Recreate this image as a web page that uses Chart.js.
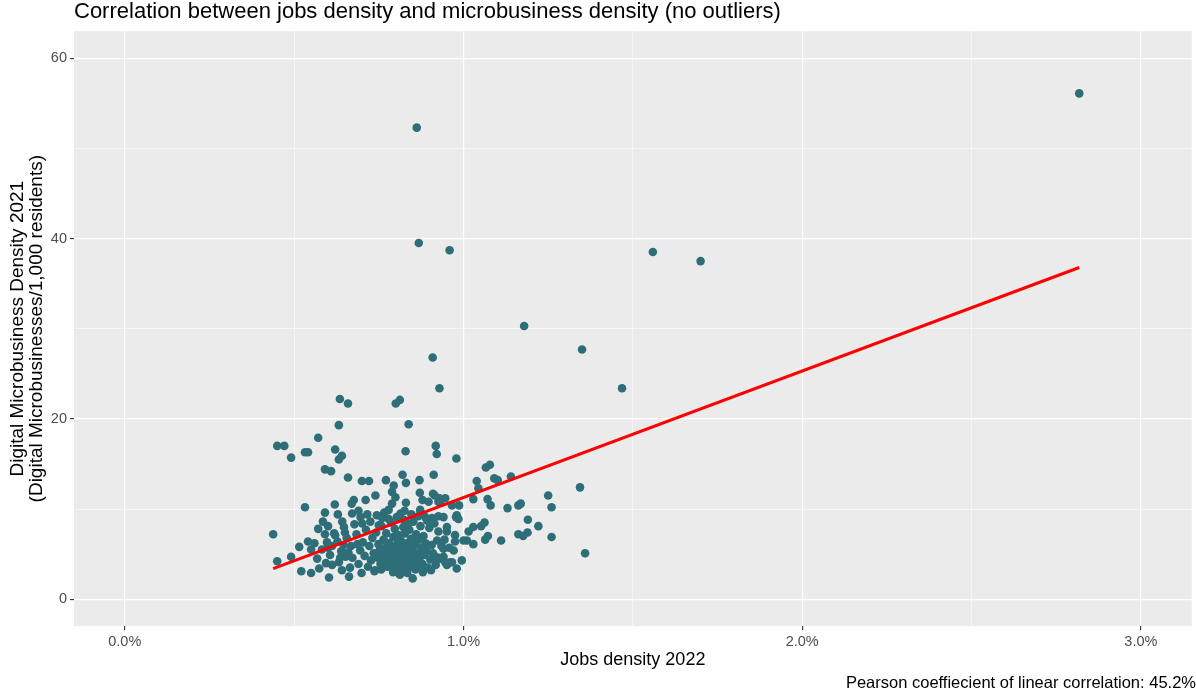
<!DOCTYPE html>
<html>
<head>
<meta charset="utf-8">
<title>Jobs density vs microbusiness density</title>
<script src="https://cdn.jsdelivr.net/npm/chart.js@4.4.0/dist/chart.umd.min.js"></script>
<style>
  html, body { margin: 0; padding: 0; background: #ffffff; }
  #wrap { width: 1196px; height: 696px; }
</style>
</head>
<body>
<div id="wrap"><canvas id="scatter" width="1196" height="696"></canvas></div>
<script>
// Jobs density 2022 (%) per county
const jobsDensity = [
  2.818, 0.862, 0.868, 0.959, 1.559, 1.700, 1.179, 1.350, 0.909, 0.929,
  1.468, 1.344, 1.359, 0.635, 0.659, 0.800, 0.812, 0.632, 0.838, 0.571,
  0.450, 0.471, 0.491, 0.532, 0.541, 0.621, 0.632, 0.641, 0.829, 0.918,
  0.921, 0.979, 0.591, 0.609, 0.659, 0.700, 0.721, 0.771, 0.794, 1.066,
  1.078, 1.039, 1.091, 1.101, 1.140, 0.820, 0.830, 0.870, 0.912, 0.740,
  1.250, 1.260, 1.162, 1.169, 1.130, 1.190, 1.221, 1.162, 1.176, 1.189,
  1.260, 1.111, 1.072, 1.064, 1.062, 1.052, 1.029, 1.015, 1.029, 1.010,
  1.029, 1.071, 1.080, 1.044, 0.980, 0.985, 0.971, 0.980, 0.961, 0.951,
  0.941, 0.926, 0.850, 0.871, 0.910, 0.929, 0.926, 0.966, 0.926, 1.000,
  0.941, 0.975, 0.917, 0.931, 0.946, 0.966, 0.995, 0.812, 0.662, 0.676,
  0.670, 0.620, 0.711, 0.789, 0.799, 0.789, 0.779, 0.830, 0.879, 0.897,
  0.915, 0.931, 0.946, 0.987, 0.978, 0.671, 0.696, 0.701, 0.642, 0.647,
  0.618, 0.760, 0.750, 0.814, 0.824, 0.838, 0.872, 0.887, 0.907, 0.941,
  0.951, 0.926, 0.951, 0.975, 0.438, 0.450, 0.491, 0.521, 0.550, 0.541,
  0.550, 0.571, 0.600, 0.591, 0.621, 0.532, 0.591, 0.629, 0.597, 0.600,
  0.574, 0.594, 0.603, 0.612, 0.632, 0.690, 0.641, 0.650,
  0.655, 0.668, 0.672, 0.684, 0.690, 0.695, 0.703, 0.708, 0.712, 0.718,
  0.722, 0.727, 0.731, 0.735, 0.739, 0.742, 0.746, 0.749, 0.752, 0.755,
  0.758, 0.761, 0.764, 0.767, 0.770, 0.772, 0.775, 0.778, 0.781, 0.783,
  0.786, 0.788, 0.790, 0.793, 0.795, 0.797, 0.800, 0.802, 0.804, 0.806,
  0.808, 0.811, 0.813, 0.815, 0.818, 0.820, 0.822, 0.824, 0.827, 0.829,
  0.831, 0.833, 0.836, 0.838, 0.840, 0.843, 0.845, 0.847, 0.850, 0.852,
  0.855, 0.857, 0.860, 0.862, 0.865, 0.868, 0.870, 0.873, 0.876, 0.879,
  0.882, 0.885, 0.888, 0.891, 0.895, 0.899, 0.902, 0.906, 0.910, 0.914,
  0.918, 0.922, 0.935, 0.944, 0.958, 0.665, 0.678, 0.687, 0.699, 0.716,
  0.725, 0.737, 0.744, 0.757, 0.766, 0.779, 0.792, 0.803, 0.817, 0.826,
  0.834, 0.846, 0.858, 0.866, 0.880, 0.893, 0.904, 0.639, 0.646, 0.652,
  0.660, 0.628, 0.636, 0.612, 0.606, 0.582, 0.568, 0.560, 0.585, 0.515
];

// Digital microbusiness density 2021 (per 1,000 residents), same order
const microDensity = [
  56.1, 52.3, 39.5, 38.7, 38.5, 37.5, 30.3, 27.7, 26.8, 23.4,
  23.4, 12.4, 5.1, 22.2, 21.7, 21.7, 22.1, 19.3, 19.4, 17.9,
  17.0, 17.0, 15.7, 16.3, 16.3, 16.6, 15.5, 15.9, 16.4, 17.0,
  16.1, 15.6, 14.4, 14.2, 13.5, 13.1, 13.1, 13.2, 12.6, 14.6,
  14.9, 13.1, 13.4, 13.2, 13.6, 13.8, 12.9, 13.2, 13.8, 11.5,
  11.5, 10.2, 10.4, 10.6, 10.1, 8.8, 8.1, 7.2, 7.0, 7.4,
  6.9, 6.5, 7.0, 6.6, 8.5, 8.1, 8.0, 7.5, 6.1, 6.5,
  11.1, 11.1, 10.4, 12.3, 9.3, 8.9, 5.4, 3.4, 4.1, 3.8,
  4.7, 4.6, 2.3, 11.8, 11.7, 11.2, 10.8, 10.4, 9.2, 6.5,
  5.6, 6.4, 4.7, 4.5, 4.1, 4.1, 4.3, 2.7, 2.5, 11.0,
  10.6, 10.5, 11.0, 11.9, 11.3, 10.6, 9.9, 10.7, 11.0, 10.8,
  11.5, 10.7, 11.2, 10.4, 9.1, 9.5, 9.1, 8.4, 8.6, 8.0,
  7.3, 9.0, 8.2, 9.5, 8.8, 8.4, 9.9, 9.1, 9.0, 9.1,
  8.0, 7.5, 7.5, 7.1, 7.2, 4.2, 4.7, 3.1, 2.9, 6.4,
  5.5, 7.8, 8.1, 7.2, 7.1, 10.2, 9.6, 9.4, 6.3, 5.7,
  3.4, 4.0, 2.4, 3.8, 4.1, 9.8, 3.2, 7.4,
  6.8, 5.9, 4.6, 7.2, 3.9, 5.4, 6.3, 4.8, 7.7, 3.6,
  5.9, 4.3, 6.8, 5.1, 3.2, 7.4, 4.6, 6.1, 5.4, 3.9,
  8.1, 4.9, 6.6, 4.2, 5.7, 7.3, 3.6, 5.0, 6.2, 4.4,
  8.5, 5.6, 3.8, 6.9, 4.7, 7.8, 5.3, 3.1, 6.1, 4.2,
  7.1, 5.0, 3.6, 6.5, 4.6, 5.8, 8.0, 3.9, 7.3, 5.2,
  4.4, 6.2, 3.4, 5.6, 7.7, 4.8, 6.7, 3.9, 5.3, 8.6,
  4.3, 6.0, 7.2, 3.6, 5.1, 6.6, 4.5, 8.1, 5.7, 3.9,
  7.0, 4.9, 6.2, 5.4, 3.5, 7.9, 4.4, 6.0, 5.1, 8.4,
  3.8, 6.5, 5.9, 6.6, 5.7, 3.5, 8.3, 6.1, 2.9, 9.4,
  8.6, 3.1, 9.3, 3.3, 9.6, 8.9, 3.0, 9.1, 3.2, 9.8,
  2.9, 9.4, 3.3, 9.2, 3.0, 8.7, 3.2, 5.3, 6.0, 4.7,
  5.2, 6.4, 4.6, 5.9, 4.9, 5.5, 4.5, 6.2, 8.6, 5.8
];

// Linear fit (microDensity ~ jobsDensity)
const fitIntercept = -2.75;
const fitSlope = 14.03;

// Labelled (major) ticks
const xTicks = [0, 1, 2, 3];
const yTicks = [0, 20, 40, 60];

const FONT = "'Liberation Sans', Arial, Helvetica, sans-serif";

const points = jobsDensity.map((x, i) => ({ x: x, y: microDensity[i] }));
const xLo = Math.min(...jobsDensity);
const xHi = Math.max(...jobsDensity);
const fitLine = [
  { x: xLo, y: fitIntercept + fitSlope * xLo },
  { x: xHi, y: fitIntercept + fitSlope * xHi }
];

const isMajor = (list, v) => list.some(t => Math.abs(t - v) < 1e-9);

// grey panel behind the grid
const panelBackground = {
  id: 'panelBackground',
  beforeDraw(chart) {
    const { ctx, chartArea: a } = chart;
    ctx.save();
    ctx.fillStyle = '#ebebeb';
    ctx.fillRect(a.left, a.top, a.right - a.left, a.bottom - a.top);
    ctx.restore();
  }
};

function gridFor(majors) {
  return {
    color: '#ffffff',
    lineWidth: c => (c.tick && isMajor(majors, c.tick.value)) ? 1.2 : 0.55,
    tickColor: c => (c.tick && isMajor(majors, c.tick.value)) ? '#333333' : 'rgba(0,0,0,0)',
    tickLength: 4,
    tickWidth: 1.1
  };
}

new Chart(document.getElementById('scatter'), {
  type: 'scatter',
  data: {
    datasets: [
      {
        label: 'Linear fit',
        data: fitLine,
        showLine: true,
        borderColor: '#ff0000',
        borderWidth: 3,
        pointRadius: 0,
        order: 0
      },
      {
        label: 'Counties',
        data: points,
        backgroundColor: '#2e6e78',
        borderWidth: 0,
        pointRadius: 4.3,
        order: 1
      }
    ]
  },
  options: {
    responsive: false,
    animation: false,
    devicePixelRatio: 1,
    events: [],
    layout: { padding: 0 },
    plugins: {
      legend: { display: false },
      tooltip: { enabled: false },
      title: {
        display: true,
        text: 'Correlation between jobs density and microbusiness density (no outliers)',
        align: 'start',
        fullSize: false,
        color: '#000000',
        font: { family: FONT, size: 22, weight: 'normal', lineHeight: 1.1 },
        padding: { top: 0, bottom: 7 }
      },
      subtitle: {
        display: true,
        position: 'bottom',
        align: 'end',
        text: 'Pearson coeffiecient of linear correlation: 45.2%',
        color: '#000000',
        font: { family: FONT, size: 16.5, weight: 'normal', lineHeight: 1.2 },
        padding: { top: 0, bottom: 3 }
      }
    },
    scales: {
      x: {
        type: 'linear',
        min: -0.15,
        max: 3.15,
        border: { display: false },
        grid: gridFor(xTicks),
        ticks: {
          stepSize: 0.5,
          includeBounds: false,
          autoSkip: false,
          maxRotation: 0,
          color: '#4d4d4d',
          padding: 3,
          font: { family: FONT, size: 14.5 },
          callback: v => isMajor(xTicks, v) ? v.toFixed(1) + '%' : ''
        },
        title: {
          display: true,
          text: 'Jobs density 2022',
          color: '#000000',
          font: { family: FONT, size: 18 },
          padding: { top: 0, bottom: 2 }
        },
        afterFit: s => { s.height = 47; }
      },
      y: {
        type: 'linear',
        min: -3,
        max: 63,
        border: { display: false },
        grid: gridFor(yTicks),
        ticks: {
          stepSize: 10,
          includeBounds: false,
          autoSkip: false,
          color: '#4d4d4d',
          padding: 3,
          font: { family: FONT, size: 14.5 },
          callback: v => isMajor(yTicks, v) ? String(v) : ''
        },
        title: {
          display: true,
          text: ['Digital Microbusiness Density 2021', '(Digital Microbusinesses/1,000 residents)'],
          color: '#000000',
          font: { family: FONT, size: 19, lineHeight: '19px' },
          padding: { top: 8, bottom: 0 }
        },
        afterFit: s => { s.width = 74; }
      }
    }
  },
  plugins: [panelBackground]
});
</script>
</body>
</html>
